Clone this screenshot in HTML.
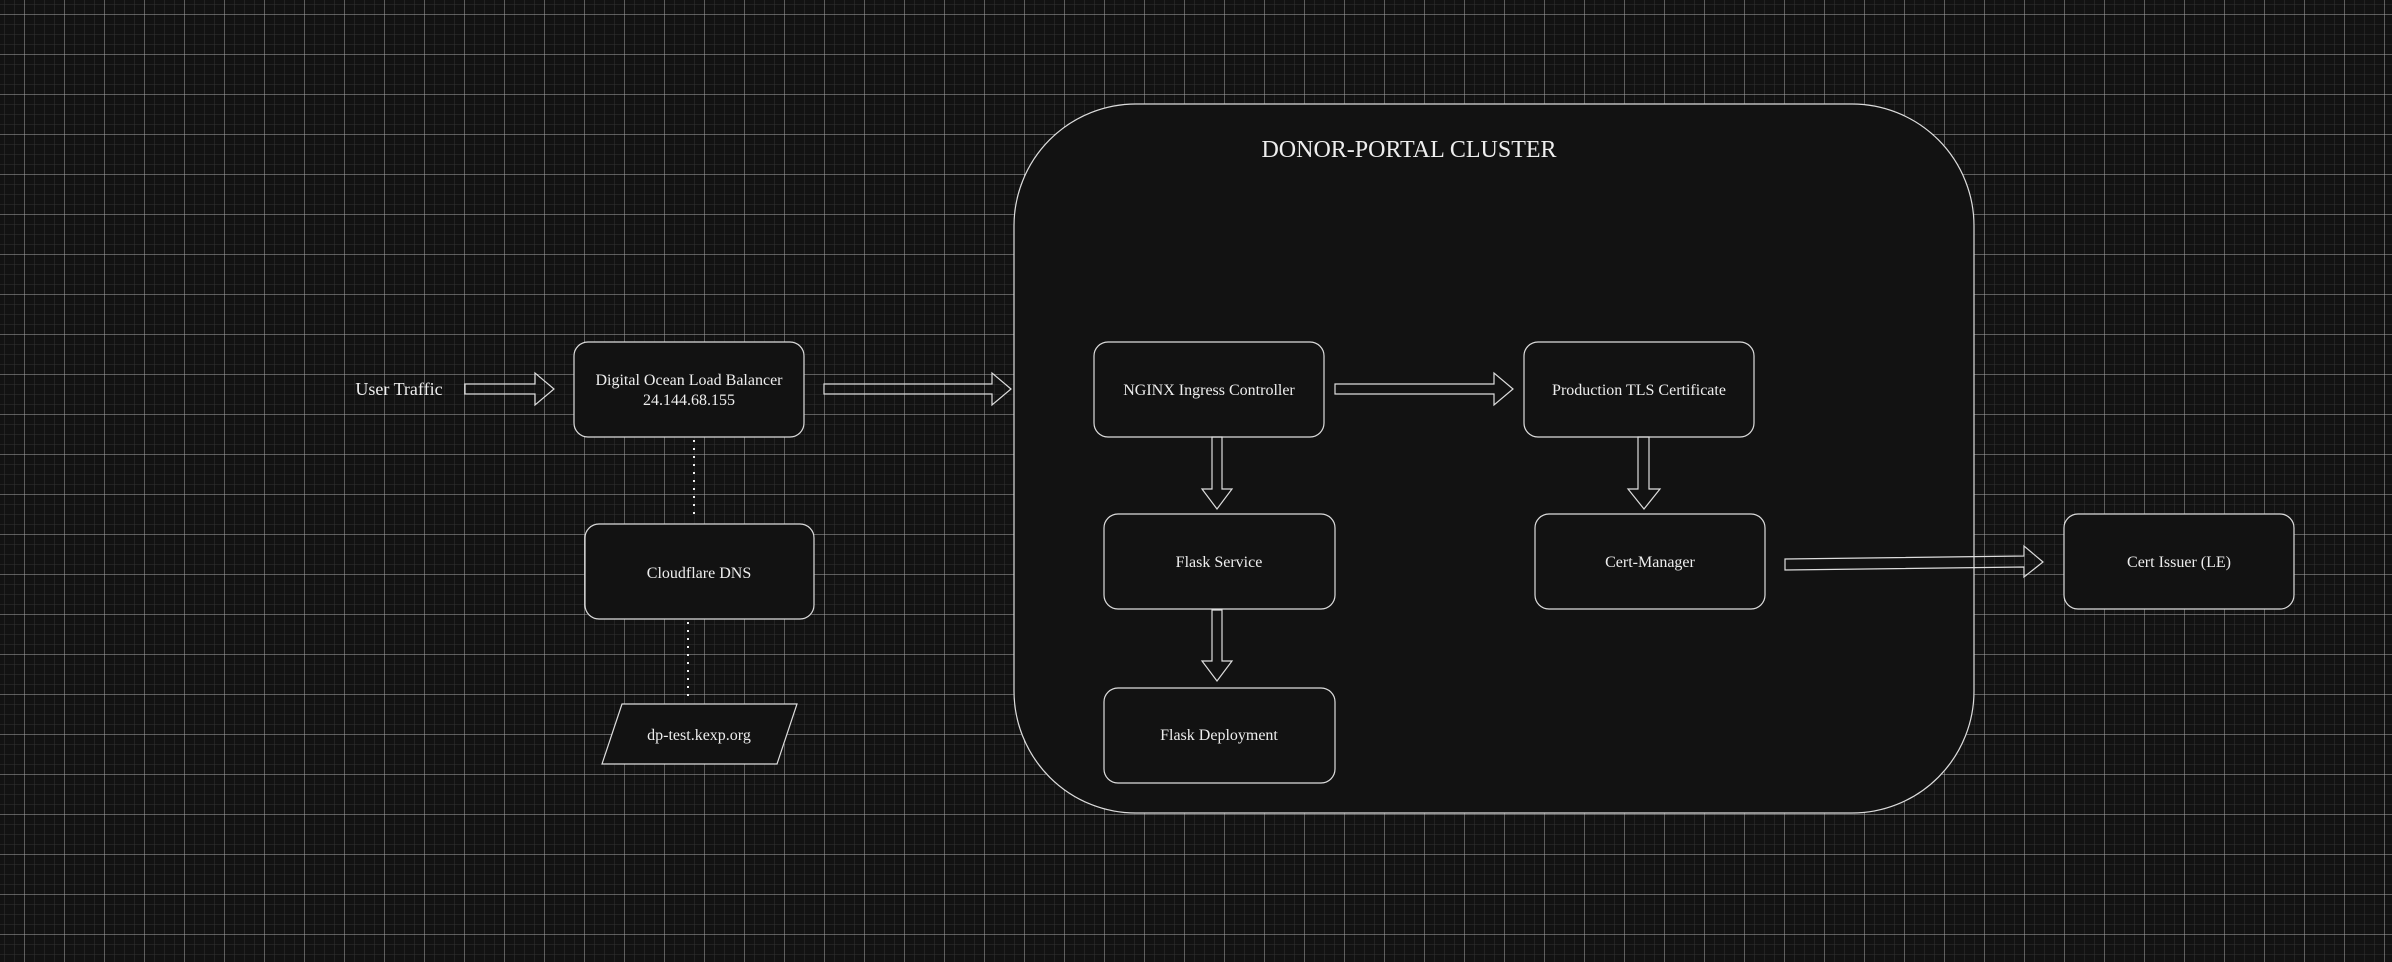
<!DOCTYPE html>
<html><head><meta charset="utf-8"><style>
html,body{margin:0;padding:0;background:#121212;}
svg{display:block;}
text{font-family:"Liberation Serif",serif;fill:#eeeeee;}
</style></head><body>
<svg width="2392" height="962" viewBox="0 0 2392 962" xmlns="http://www.w3.org/2000/svg">
<defs>
<pattern id="minor" x="4" y="4" width="10" height="10" patternUnits="userSpaceOnUse">
<path d="M0 0H10M0 0V10" stroke="#333" stroke-width="1" fill="none"/>
</pattern>
<pattern id="major" x="24" y="14" width="40" height="40" patternUnits="userSpaceOnUse">
<path d="M0 0H40M0 0V40" stroke="#a8a8a8" stroke-width="1" fill="none"/>
</pattern>
</defs>
<rect width="2392" height="962" fill="#121212"/>
<rect width="2392" height="962" fill="url(#minor)"/>
<rect width="2392" height="962" fill="url(#major)"/>

<g stroke="#dddddd" stroke-width="1.2" fill="#121212">
<rect x="1014" y="104" width="960" height="709" rx="122" ry="122"/>
<rect x="574" y="342" width="230" height="95" rx="14"/>
<rect x="585" y="524" width="229" height="95" rx="14"/>
<polygon points="622,704 797,704 777,764 602,764"/>
<rect x="1094" y="342" width="230" height="95" rx="14"/>
<rect x="1524" y="342" width="230" height="95" rx="14"/>
<rect x="1104" y="514" width="231" height="95" rx="14"/>
<rect x="1535" y="514" width="230" height="95" rx="14"/>
<rect x="1104" y="688" width="231" height="95" rx="14"/>
<rect x="2064" y="514" width="230" height="95" rx="14"/>
</g>

<g stroke="#dddddd" stroke-width="1.2" fill="none">
<polygon points="465,384 535,384 535,373 554,389 535,405 535,394 465,394"/>
<polygon points="824,384 992,384 992,373 1011,389 992,405 992,394 824,394"/>
<polygon points="1335,384 1494,384 1494,373 1513,389 1494,405 1494,394 1335,394"/>
<polygon points="1212,437 1222,437 1222,489 1232,489 1217,509 1202,489 1212,489"/>
<polygon points="1212,610 1222,610 1222,661 1232,661 1217,681 1202,661 1212,661"/>
<polygon points="1638,437 1649,437 1649,489 1660,489 1644,509 1628,489 1638,489"/>
<polygon points="1785,559 2024,556 2024,546 2043,562 2024,577 2024,567 1785,570"/>
</g>
<g stroke="#eeeeee" stroke-width="2" stroke-dasharray="2,6">
<line x1="694" y1="440" x2="694" y2="515"/>
<line x1="688" y1="622" x2="688" y2="698"/>
</g>

<text x="1409" y="157" font-size="24" text-anchor="middle">DONOR-PORTAL CLUSTER</text>
<text x="399" y="395" font-size="18" text-anchor="middle">User Traffic</text>
<g font-size="16" text-anchor="middle">
<text x="689" y="385">Digital Ocean Load Balancer</text>
<text x="689" y="405">24.144.68.155</text>
<text x="699" y="578">Cloudflare DNS</text>
<text x="699" y="740">dp-test.kexp.org</text>
<text x="1209" y="395">NGINX Ingress Controller</text>
<text x="1639" y="395">Production TLS Certificate</text>
<text x="1219" y="567">Flask Service</text>
<text x="1650" y="567">Cert-Manager</text>
<text x="1219" y="740">Flask Deployment</text>
<text x="2179" y="567">Cert Issuer (LE)</text>
</g>
</svg>
</body></html>
